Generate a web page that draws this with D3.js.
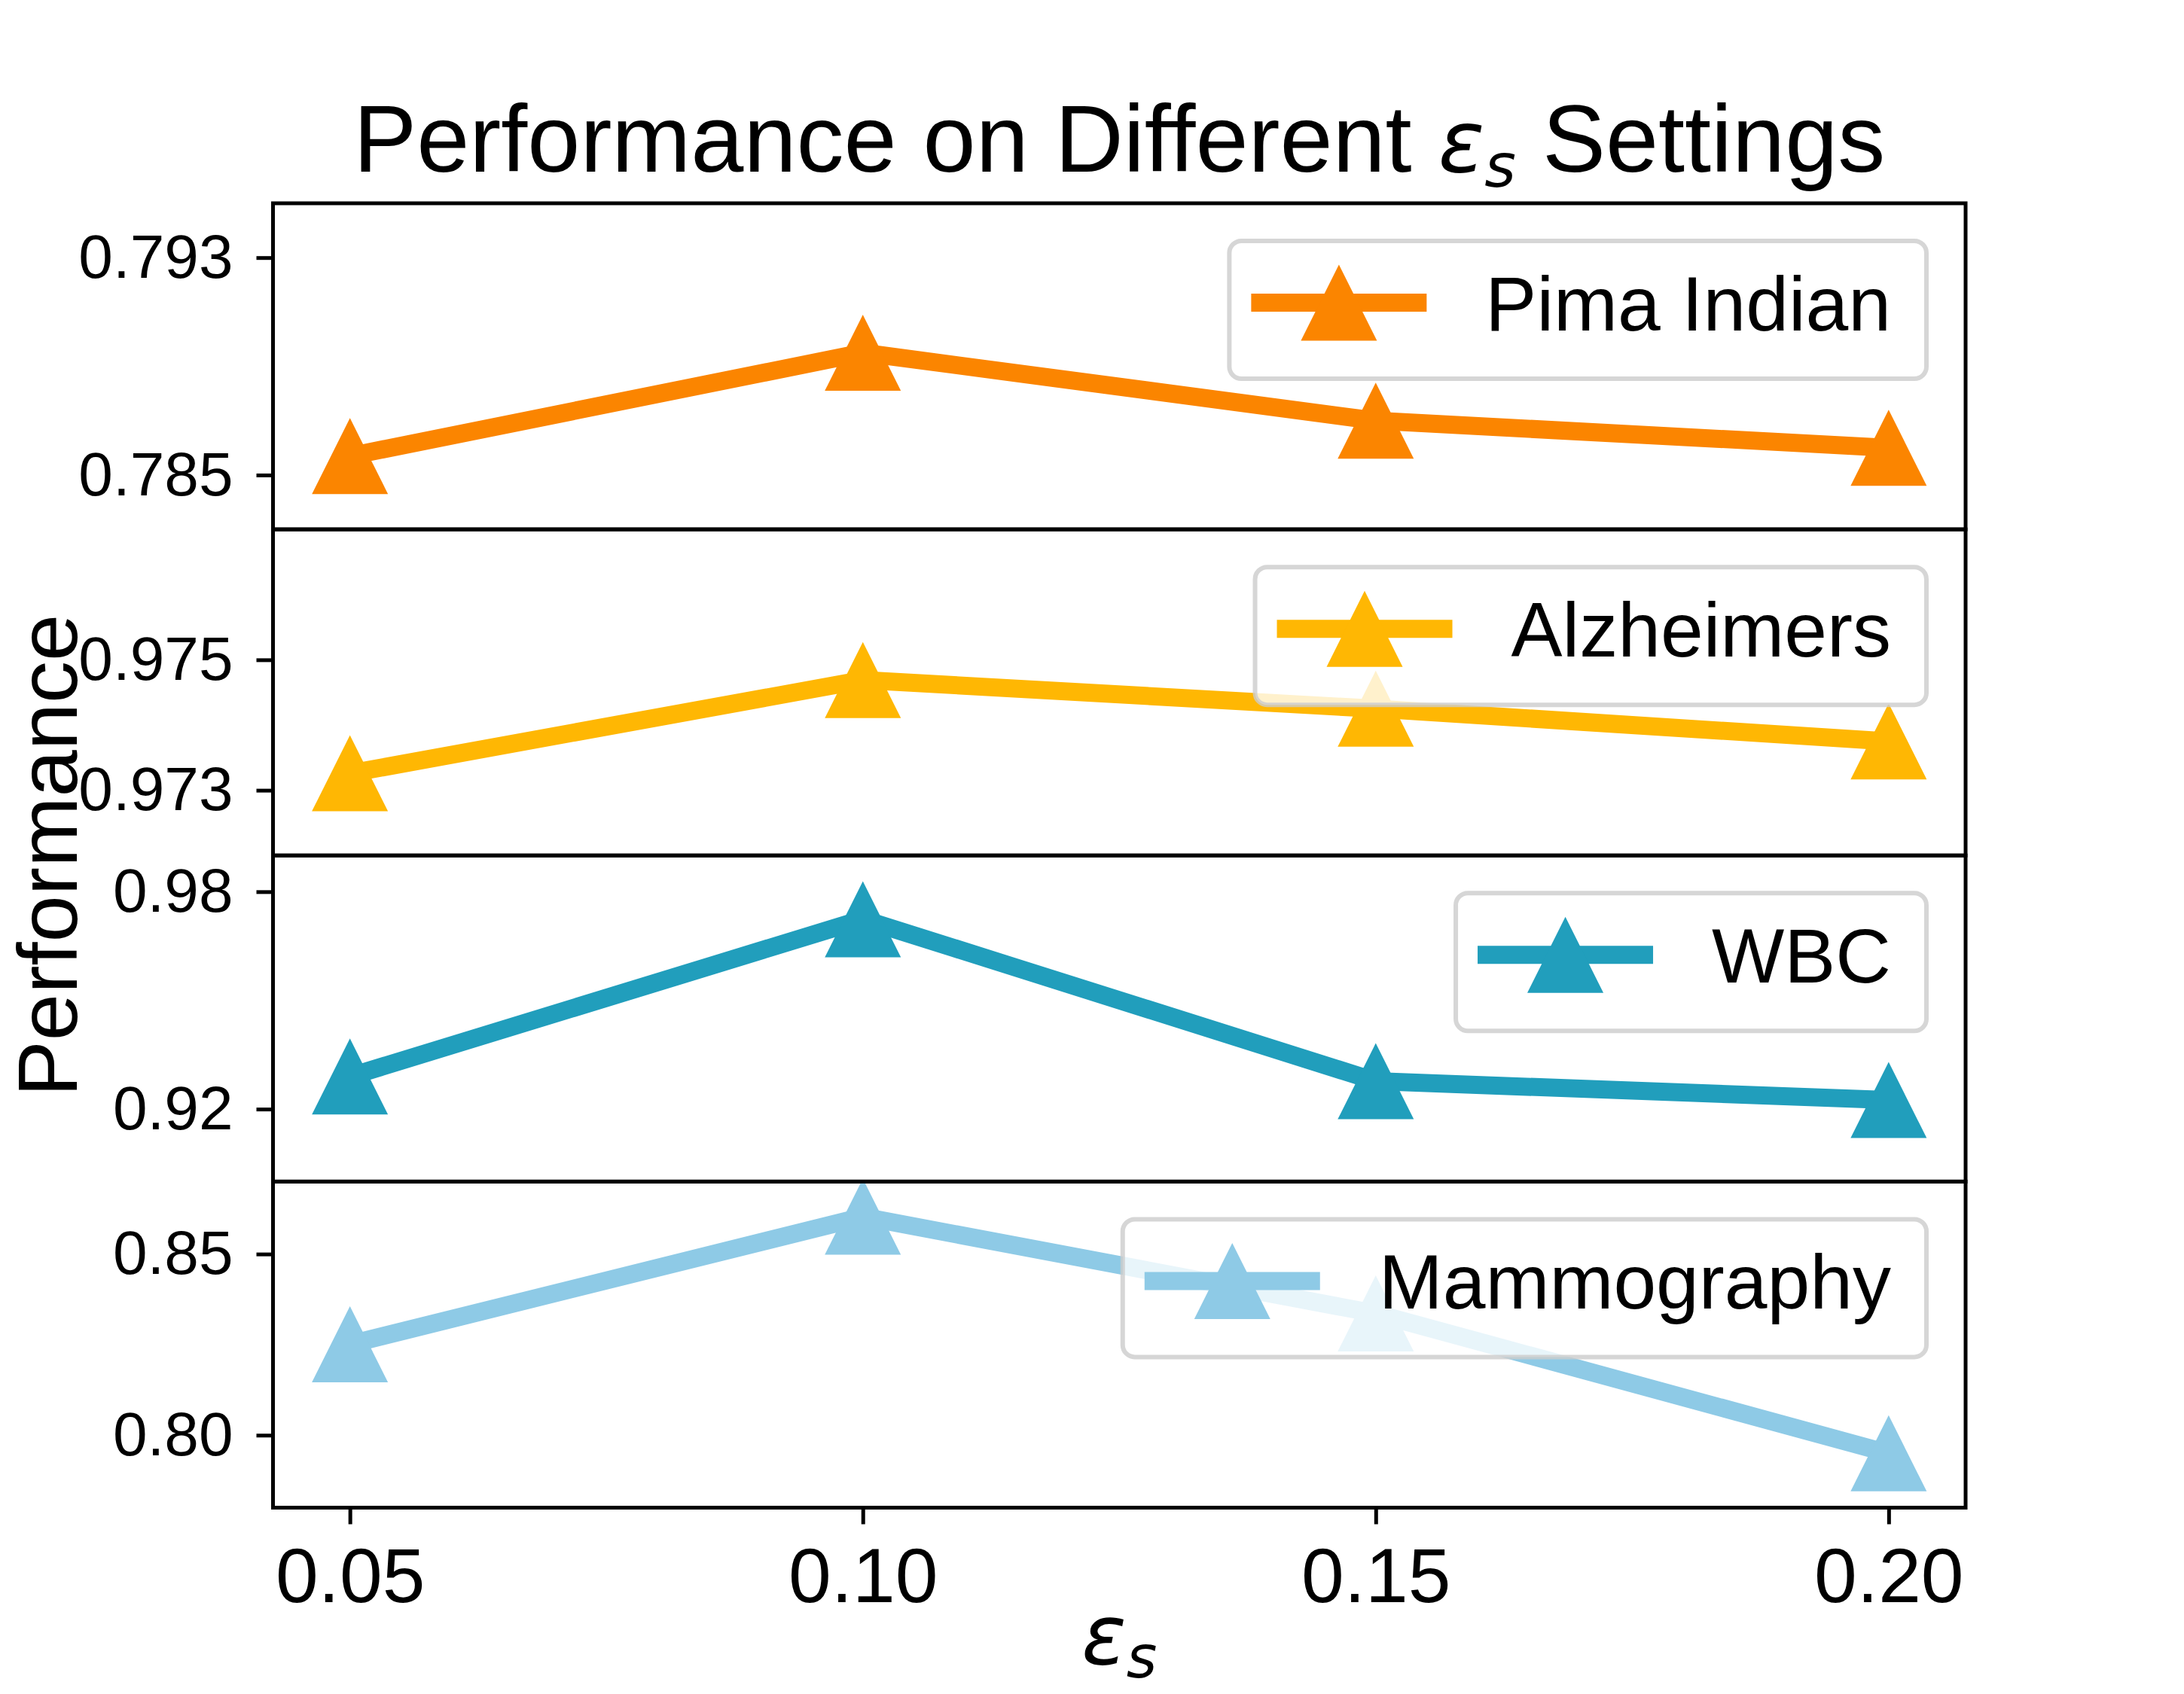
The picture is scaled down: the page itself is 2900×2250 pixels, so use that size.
<!DOCTYPE html>
<html>
<head>
<meta charset="utf-8">
<script src="https://cdn.jsdelivr.net/npm/d3@7"></script>
<style>
  body { margin: 0; background: #fff; }
  svg { display: block; }
</style>
</head>
<body>
<div id="chart"></div>
<script>
// data
const xValues = [0.05, 0.10, 0.15, 0.20];
const xTickLabels = ["0.05", "0.10", "0.15", "0.20"];
const datasetNames = ["Pima Indian", "Alzheimers", "WBC", "Mammography"];
const pimaValues = [0.7857, 0.7895, 0.7870, 0.7860];
const alzheimersValues = [0.97326, 0.97469, 0.97425, 0.97375];
const wbcValues = [0.9290, 0.9724, 0.9277, 0.9225];
const mammographyValues = [0.8251, 0.8603, 0.8336, 0.7950];
const yLimits = [[0.783, 0.795], [0.972, 0.977], [0.90, 0.99], [0.78, 0.87]];
const yTickValues = [[0.785, 0.793], [0.973, 0.975], [0.92, 0.98], [0.80, 0.85]];
const yTickLabels = [["0.785", "0.793"], ["0.973", "0.975"], ["0.92", "0.98"], ["0.80", "0.85"]];

const seriesValues = [pimaValues, alzheimersValues, wbcValues, mammographyValues];
const colours = ["#FB8500", "#FFB703", "#219EBC", "#8ECAE6"];

//layout
const W = 2900, H = 2250;
const plotLeft = 362.5, plotRight = 2610, plotTop = 270, plotBottom = 2002.5;
const panelH = (plotBottom - plotTop) / 4;
const font = "'Liberation Sans', Arial, Helvetica, sans-serif";
const mathFont = "'DejaVu Sans', sans-serif";
const lineW = 24;
const markerR = 50.5;
const trianglePath = `M0,${-markerR}L${-markerR},${markerR}L${markerR},${markerR}Z`;

const svg = d3.select("#chart").append("svg")
    .attr("width", W)
    .attr("height", H);

svg.append("rect").attr("width", W).attr("height", H).attr("fill", "#fff");

//x-axis scale (matplotlib style 5% margins)
const xExt = d3.extent(xValues);
const xPad = (xExt[1] - xExt[0]) * 0.05;
const xScale = d3.scaleLinear()
    .domain([xExt[0] - xPad, xExt[1] + xPad])
    .range([plotLeft, plotRight]);

const defs = svg.append("defs");

seriesValues.forEach((values, i) => {
    const top = plotTop + panelH * i;
    const bottom = top + panelH;

    const yScale = d3.scaleLinear()
        .domain(yLimits[i])
        .range([bottom, top]);

    //clip to panel
    defs.append("clipPath")
        .attr("id", "clip" + i)
        .append("rect")
        .attr("x", plotLeft)
        .attr("y", top)
        .attr("width", plotRight - plotLeft)
        .attr("height", panelH);

    const g = svg.append("g").attr("clip-path", `url(#clip${i})`);

    const points = xValues.map((x, j) => ({ x: x, y: values[j] }));

    const valueLine = d3.line()
        .x(d => xScale(d.x))
        .y(d => yScale(d.y));

    g.append("path")
        .datum(points)
        .attr("fill", "none")
        .attr("stroke", colours[i])
        .attr("stroke-width", lineW)
        .attr("stroke-linejoin", "round")
        .attr("stroke-linecap", "square")
        .attr("d", valueLine);

    g.selectAll(".marker")
        .data(points)
        .enter()
        .append("path")
        .attr("class", "marker")
        .attr("fill", colours[i])
        .attr("d", trianglePath)
        .attr("transform", d => `translate(${xScale(d.x)},${yScale(d.y)})`);

    //y axis
    const yAxis = d3.axisLeft(yScale)
        .tickValues(yTickValues[i])
        .tickFormat((d, k) => yTickLabels[i][k])
        .tickSize(22)
        .tickPadding(31);

    const yAxisGroup = svg.append("g")
        .attr("transform", `translate(${plotLeft},0)`)
        .call(yAxis);
    yAxisGroup.select(".domain").remove();
    yAxisGroup.selectAll("line").attr("stroke", "#000").attr("stroke-width", 5);
    yAxisGroup.selectAll("text")
        .attr("fill", "#000")
        .style("font-family", font)
        .style("font-size", "82px");

    //frame
    svg.append("rect")
        .attr("x", plotLeft)
        .attr("y", top)
        .attr("width", plotRight - plotLeft)
        .attr("height", panelH)
        .attr("fill", "none")
        .attr("stroke", "#000")
        .attr("stroke-width", 5);

    //legend
    const legend = svg.append("g");
    const label = legend.append("text")
        .attr("font-family", font)
        .attr("font-size", 102)
        .attr("fill", "#000")
        .text(datasetNames[i]);
    const textW = label.node().getComputedTextLength();
    const boxW = 29 + 233 + 78 + textW + 47;
    const boxH = 183;
    const boxX = plotRight - 52 - boxW;
    const boxY = top + 50;

    legend.insert("rect", "text")
        .attr("x", boxX)
        .attr("y", boxY)
        .attr("width", boxW)
        .attr("height", boxH)
        .attr("rx", 16)
        .attr("fill", "#fff")
        .attr("fill-opacity", 0.8)
        .attr("stroke", "#ccc")
        .attr("stroke-opacity", 0.8)
        .attr("stroke-width", 6);

    legend.insert("line", "text")
        .attr("x1", boxX + 29)
        .attr("x2", boxX + 262)
        .attr("y1", boxY + 82)
        .attr("y2", boxY + 82)
        .attr("stroke", colours[i])
        .attr("stroke-width", lineW);

    legend.insert("path", "text")
        .attr("d", trianglePath)
        .attr("fill", colours[i])
        .attr("transform", `translate(${boxX + 145.5},${boxY + 82})`);

    label.attr("x", boxX + 340).attr("y", boxY + 119);
});

//x axis
const xAxis = d3.axisBottom(xScale)
    .tickValues(xValues)
    .tickFormat((d, k) => xTickLabels[k])
    .tickSize(22)
    .tickPadding(31);

const xAxisGroup = svg.append("g")
    .attr("transform", `translate(0,${plotBottom})`)
    .call(xAxis);
xAxisGroup.select(".domain").remove();
xAxisGroup.selectAll("line").attr("stroke", "#000").attr("stroke-width", 5);
xAxisGroup.selectAll("text")
    .attr("fill", "#000")
    .style("font-family", font)
    .style("font-size", "102px");

//title
const centerX = (plotLeft + plotRight) / 2;
const title = svg.append("text")
    .attr("x", centerX)
    .attr("y", 228)
    .attr("text-anchor", "middle")
    .attr("font-family", font)
    .attr("font-size", 126)
    .attr("fill", "#000");
title.append("tspan").text("Performance on Different ");
title.append("tspan").attr("font-family", mathFont).attr("font-style", "italic").attr("font-size", 114).text("ε");
title.append("tspan").attr("font-family", mathFont).attr("font-style", "italic").attr("font-size", 80).attr("dy", 20).text("s");
title.append("tspan").attr("dy", -20).text(" Settings");

//x label
const xLabel = svg.append("text")
    .attr("x", centerX)
    .attr("y", 2210)
    .attr("text-anchor", "middle")
    .attr("font-family", mathFont)
    .attr("font-style", "italic")
    .attr("font-size", 110)
    .attr("fill", "#000");
xLabel.append("tspan").text("ε");
xLabel.append("tspan").attr("font-size", 78).attr("dy", 18).text("s");

//y label
svg.append("text")
    .attr("transform", `translate(102,${(plotTop + plotBottom) / 2}) rotate(-90)`)
    .attr("text-anchor", "middle")
    .attr("font-family", font)
    .attr("font-size", 112)
    .attr("fill", "#000")
    .text("Performance");
</script>
</body>
</html>
